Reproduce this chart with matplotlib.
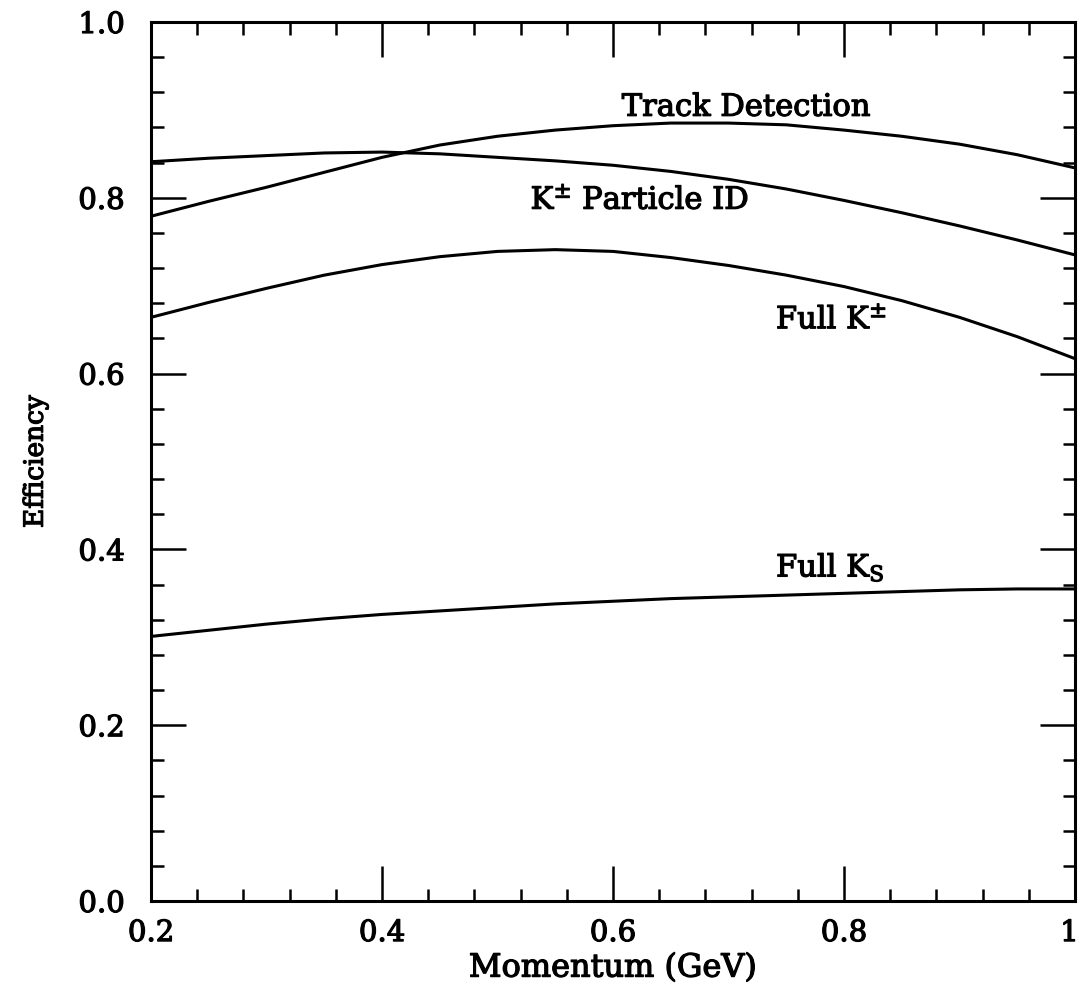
import matplotlib
matplotlib.use("Agg")
import matplotlib.pyplot as plt
import matplotlib.patheffects as pe
from matplotlib.ticker import MultipleLocator
from matplotlib.transforms import ScaledTranslation

plt.rcParams['font.family'] = ['DejaVu Serif']
plt.rcParams['mathtext.fontset'] = 'dejavuserif'

# momentum grid (GeV) and efficiency curves
momentum = [0.20, 0.25, 0.30, 0.35, 0.40, 0.45, 0.50, 0.55, 0.60,
            0.65, 0.70, 0.75, 0.80, 0.85, 0.90, 0.95, 1.00]
track_eff = [0.779, 0.796, 0.812, 0.829, 0.846, 0.860, 0.870, 0.877, 0.882,
             0.885, 0.885, 0.883, 0.877, 0.870, 0.861, 0.849, 0.834]
kpid_eff = [0.841, 0.845, 0.848, 0.851, 0.852, 0.850, 0.846, 0.842, 0.837,
            0.830, 0.821, 0.810, 0.797, 0.783, 0.768, 0.752, 0.735]
fullk_eff = [0.664, 0.681, 0.697, 0.712, 0.724, 0.733, 0.739, 0.741, 0.739,
             0.732, 0.723, 0.712, 0.699, 0.683, 0.664, 0.642, 0.617]
fullks_eff = [0.301, 0.308, 0.315, 0.321, 0.326, 0.330, 0.334, 0.338, 0.341,
              0.344, 0.346, 0.348, 0.350, 0.352, 0.354, 0.355, 0.355]

curve_labels = ['Track Detection', r'K$^{\pm}$ Particle ID', r'Full K$^{\pm}$', r'Full K$_{\rm S}$']
label_x = [0.715, 0.623, 0.789, 0.788]
label_y = [0.903, 0.797, 0.661, 0.380]

x_ticks = [0.2, 0.4, 0.6, 0.8, 1.0]
x_ticklabels = ['0.2', '0.4', '0.6', '0.8', '1']
y_ticks = [0.0, 0.2, 0.4, 0.6, 0.8, 1.0]
y_ticklabels = ['0.0', '0.2', '0.4', '0.6', '0.8', '1.0']

# slightly heavier strokes on the lettering
heavy = [pe.withStroke(linewidth=0.9, foreground='black')]

fig = plt.figure(figsize=(10.82, 9.9), dpi=100)
ax = fig.add_axes([0.1396, 0.0899, 0.9935 - 0.1396, 0.9778 - 0.0899])

for eff in [track_eff, kpid_eff, fullk_eff, fullks_eff]:
    ax.plot(momentum, eff, color='black', lw=2.2, solid_joinstyle='round')

for lab, lx, ly in zip(curve_labels, label_x, label_y):
    ax.text(lx, ly, lab, ha='center', va='center', fontsize=22, path_effects=heavy)

ax.set_xlim(0.2, 1.0)
ax.set_ylim(0.0, 1.0)
ax.set_xticks(x_ticks)
ax.set_xticklabels(x_ticklabels)
ax.set_yticks(y_ticks)
ax.set_yticklabels(y_ticklabels)
ax.xaxis.set_minor_locator(MultipleLocator(0.04))
ax.yaxis.set_minor_locator(MultipleLocator(0.04))

ax.tick_params(which='both', direction='in', top=True, right=True, width=1.8,
               labelsize=21)
ax.tick_params(which='major', length=25)
ax.tick_params(which='minor', length=9)
ax.tick_params(axis='x', which='major', pad=13)
ax.tick_params(axis='y', which='major', pad=19)
for sp in ax.spines.values():
    sp.set_linewidth(2.2)

for lbl in ax.get_xticklabels() + ax.get_yticklabels():
    lbl.set_path_effects(heavy)
# keep the "1" at the right end inside the figure
last = ax.get_xticklabels()[-1]
last.set_transform(last.get_transform() + ScaledTranslation(-4 / 72, 0, fig.dpi_scale_trans))

ax.set_xlabel('Momentum (GeV)', fontsize=23, labelpad=4, path_effects=heavy)
ax.set_ylabel('Efficiency', fontsize=19, labelpad=22, path_effects=heavy)

fig.savefig('out.png', dpi=100)
